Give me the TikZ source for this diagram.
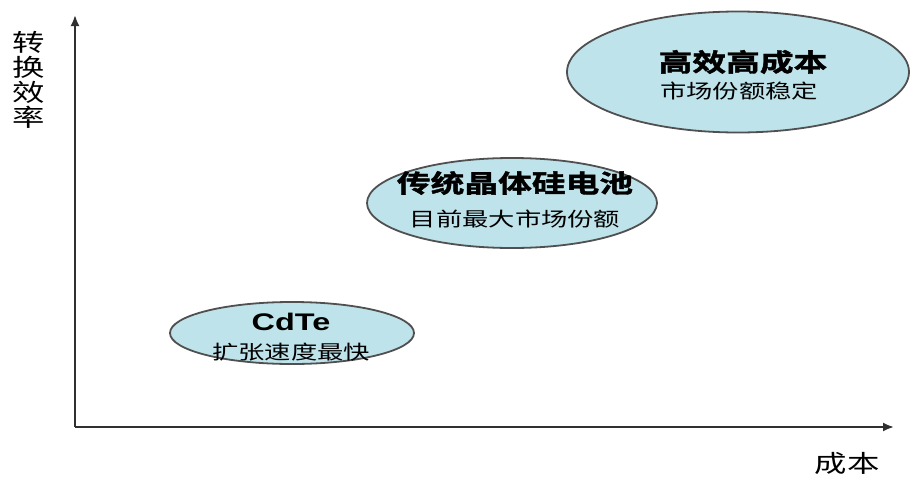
\documentclass[tikz,border=0pt]{standalone}
\usepackage{fontspec}
\newfontfamily\cjk[FakeStretch=1.35]{Noto Sans CJK SC}
\newfontfamily\cjkb[FakeStretch=1.35,FakeBold=1.5]{Noto Sans CJK SC Bold}
\newfontfamily\latb[FakeStretch=1.35]{Liberation Sans}
\usetikzlibrary{shapes.geometric,arrows.meta}
\definecolor{fillblue}{HTML}{BFE3EA}
\definecolor{edgegray}{HTML}{505050}
\definecolor{axisgray}{HTML}{303030}
\tikzset{
  blob/.style={ellipse, draw=edgegray, line width=1.8pt, fill=fillblue, inner sep=0pt},
  ttl/.style={inner sep=0pt, font=\cjkb\fontsize{25}{25}\selectfont},
  sub/.style={inner sep=0pt, font=\cjk\fontsize{19.5}{20}\selectfont},
  axislbl/.style={inner sep=0pt, font=\cjk\fontsize{24}{25}\selectfont, align=center},
  axis/.style={draw=axisgray, line width=2pt, -{Latex[length=11pt,width=9pt]}}
}
\begin{document}
\begin{tikzpicture}[x=1pt,y=-1pt]
\useasboundingbox (0,0) rectangle (911,477);
\coordinate (O) at (75,427);
\coordinate (Ytip) at (75,15);
\coordinate (Xtip) at (894,427);
\draw[axis] (O) -- (Ytip);
\draw[axis] (O) -- (Xtip);
\node[axislbl] (ylab) at (29,80) {转\\换\\效\\率};
\node[axislbl] (xlab) at (847,463) {成本};

\node[blob, minimum width=342pt, minimum height=121pt] (e1) at (738,72) {};
\node[ttl] (t1) at (743,62) {高效高成本};
\node[sub] (s1) at (739,91) {市场份额稳定};

\node[blob, minimum width=290pt, minimum height=90pt] (e2) at (512,203) {};
\node[ttl] (t2) at (515,183) {传统晶体硅电池};
\node[sub] (s2) at (515,219) {目前最大市场份额};

\node[blob, minimum width=244pt, minimum height=62pt] (e3) at (292,333) {};
\node[inner sep=0pt, font=\latb\bfseries\fontsize{24}{24}\selectfont] (t3) at (291,322) {CdTe};
\node[sub] (s3) at (291,352) {扩张速度最快};
\end{tikzpicture}
\end{document}
